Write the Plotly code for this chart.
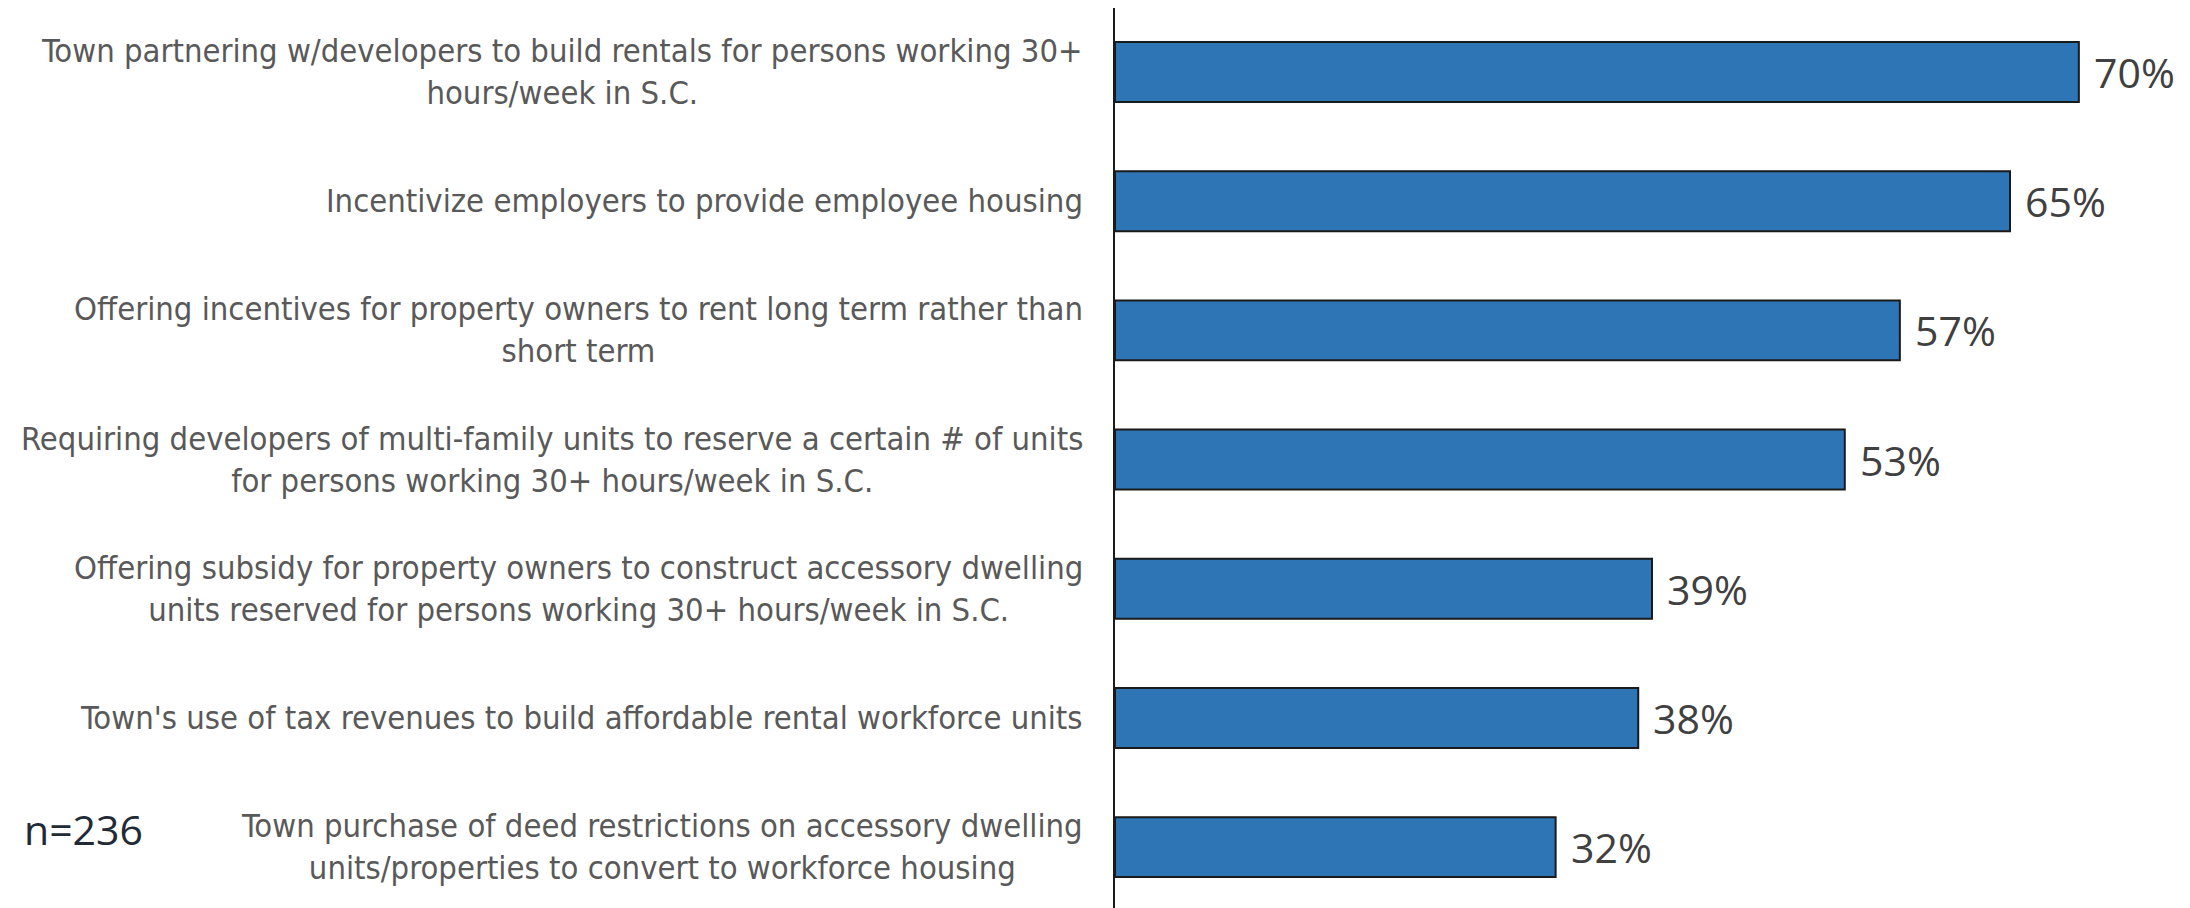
import plotly.graph_objects as go

categories = [
    "Town partnering w/developers to build rentals for persons working 30+<br>hours/week in S.C.",
    "Incentivize employers to provide employee housing",
    "Offering incentives for property owners to rent long term rather than<br>short term",
    "Requiring developers of multi-family units to reserve a certain # of units<br>for persons working 30+ hours/week in S.C.",
    "Offering subsidy for property owners to construct accessory dwelling<br>units reserved for persons working 30+ hours/week in S.C.",
    "Town's use of tax revenues to build affordable rental workforce units",
    "Town purchase of deed restrictions on accessory dwelling<br>units/properties to convert to workforce housing",
]
values = [70, 65, 57, 53, 39, 38, 32]
value_labels = ["70%", "65%", "57%", "53%", "39%", "38%", "32%"]
sample_note = "n=236"

W, H = 2182, 900
L, R, T, B = 1107, 1, 0, 0
PW, PH = W - L - R, H - T - B

fig = go.Figure()
fig.add_trace(go.Bar(
    x=values, y=categories, orientation="h",
    marker=dict(color="#2E75B6", line=dict(color="#1a1a1a", width=2)),
    hoverinfo="skip",
))

annotations = []
for c, v, t in zip(categories, values, value_labels):
    annotations.append(dict(
        x=0, y=c, xref="x", yref="y", text=c, showarrow=False,
        xanchor="right", yanchor="middle", align="center", xshift=-30,
        font=dict(family="DejaVu Sans Condensed", size=32.5, color="#595959"),
    ))
    annotations.append(dict(
        x=v, y=c, xref="x", yref="y", text=t, showarrow=False,
        xanchor="left", yanchor="middle", xshift=13,
        font=dict(family="Open Sans", size=41, color="#404040"),
    ))
annotations.append(dict(
    x=(83 - 8 - L) / PW, y=1 - (829 - 8 - T) / PH, xref="paper", yref="paper",
    text=sample_note, showarrow=False, xanchor="center", yanchor="middle",
    font=dict(family="Open Sans", size=41, color="#222a35"),
))

fig.update_layout(
    width=W, height=H,
    margin=dict(l=L, r=R, t=T, b=B, pad=0),
    plot_bgcolor="white", paper_bgcolor="white",
    bargap=0.536,
    showlegend=False,
    annotations=annotations,
    xaxis=dict(range=[0, 78.0], showgrid=False, zeroline=False,
               showticklabels=False, showline=False, fixedrange=True),
    yaxis=dict(range=[6.471, -0.495], showgrid=False, zeroline=False,
               showticklabels=False, showline=True, linecolor="#1a1a1a",
               linewidth=2, ticks="", fixedrange=True),
)
fig.write_html("out.html", config={"displayModeBar": False})
